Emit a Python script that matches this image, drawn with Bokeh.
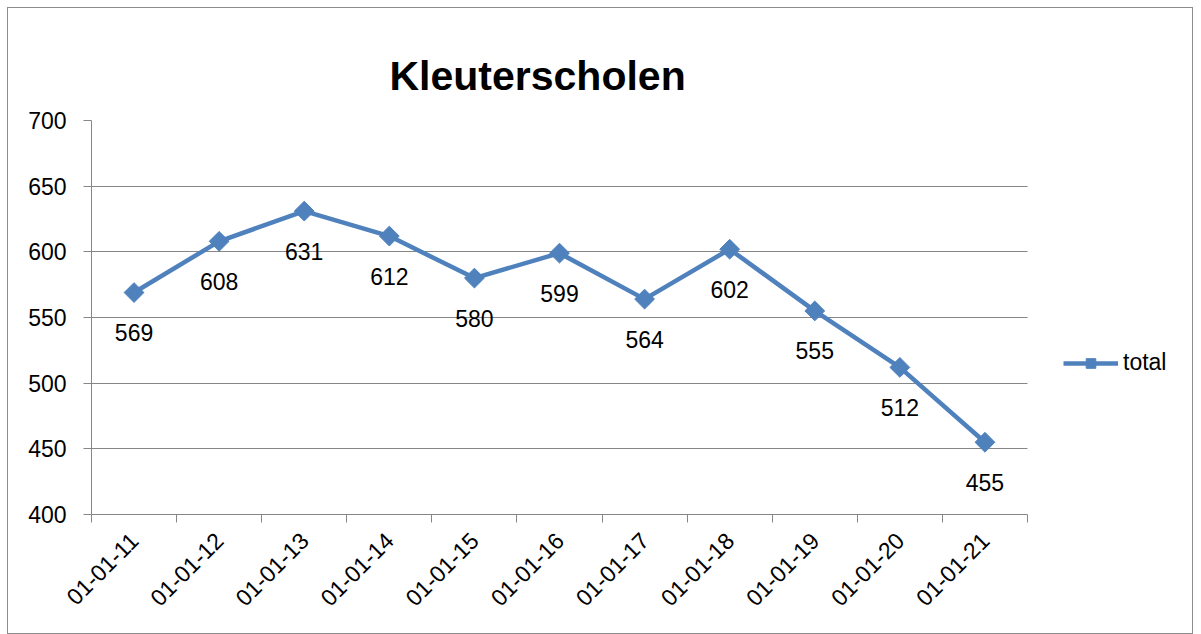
import math
from bokeh.plotting import figure
from bokeh.models import (FixedTicker, LabelSet, ColumnDataSource, Legend,
                          LegendItem, Range1d)
from bokeh.core.properties import value
from bokeh.embed import file_html
from bokeh.resources import INLINE

dates = ["01-01-11", "01-01-12", "01-01-13", "01-01-14", "01-01-15", "01-01-16",
         "01-01-17", "01-01-18", "01-01-19", "01-01-20", "01-01-21"]
totals = [569, 608, 631, 612, 580, 599, 564, 602, 555, 512, 455]
y_ticks = [400, 450, 500, 550, 600, 650, 700]
series_name = "total"
title_text = "Kleuterscholen"

FONT = "Liberation Sans"
BLUE = "#4F81BD"
GRAY = "#868686"

W, H = 1186, 627
LEFT, RIGHT_PAD, TOP, BOTTOM = 83, 10, 112, 121
PLOT_AREA_W = 936  # pixel width of the category area

n = len(dates)
xs = [i + 0.5 for i in range(n)]
src = ColumnDataSource(dict(x=xs, y=totals, lab=[str(v) for v in totals]))

frame_w = W - LEFT - RIGHT_PAD
x_end = n * frame_w / PLOT_AREA_W  # extra room on the right for the legend

p = figure(width=W, height=H, output_backend="svg", toolbar_location=None,
           x_range=Range1d(0, x_end), y_range=Range1d(400, 700),
           min_border_left=LEFT, min_border_right=RIGHT_PAD, min_border_top=TOP,
           min_border_bottom=BOTTOM)
p.styles = {"border": "1px solid #8c8c8c", "box-sizing": "border-box",
            "margin-left": "7px", "margin-top": "7px"}
p.outline_line_color = None
p.background_fill_color = "white"
p.border_fill_color = "white"

p.title.text = title_text
p.title.text_font = FONT
p.title.text_font_style = "bold"
p.title.text_font_size = "41px"
p.title.text_color = "black"
p.title.align = "left"
p.title.offset = 298
p.title.standoff = 43

# y axis
p.yaxis.ticker = FixedTicker(ticks=y_ticks)
p.yaxis.axis_line_color = GRAY
p.yaxis.major_tick_line_color = GRAY
p.yaxis.major_tick_out = 8
p.yaxis.major_tick_in = 0
p.yaxis.minor_tick_line_color = None
p.yaxis.major_label_text_font = FONT
p.yaxis.major_label_text_font_size = "23px"
p.yaxis.major_label_text_color = "black"
p.yaxis.major_label_standoff = 17

# x axis
p.xaxis.ticker = FixedTicker(ticks=xs, minor_ticks=list(range(n + 1)))
p.xaxis.bounds = (0, n)
p.xaxis.major_label_overrides = {x: d for x, d in zip(xs, dates)}
p.xaxis.major_tick_line_color = None
p.xaxis.major_tick_out = 0
p.xaxis.major_tick_in = 0
p.xaxis.minor_tick_line_color = GRAY
p.xaxis.minor_tick_out = 8
p.xaxis.minor_tick_in = 0
p.xaxis.axis_line_color = GRAY
p.xaxis.major_label_orientation = math.pi / 4
p.xaxis.major_label_text_font = FONT
p.xaxis.major_label_text_font_size = "23px"
p.xaxis.major_label_text_color = "black"
p.xaxis.major_label_standoff = 14

p.xgrid.grid_line_color = None
grid = p.ygrid[0]
try:
    grid.cross_bounds = (0, n)
    grid.ticker = FixedTicker(ticks=y_ticks)
    grid.grid_line_color = GRAY
    grid.grid_line_width = 1
except AttributeError:
    grid.grid_line_color = None
    gsrc = ColumnDataSource(dict(x0=[0] * len(y_ticks), x1=[n] * len(y_ticks),
                                 y=y_ticks))
    p.segment(x0="x0", y0="y", x1="x1", y1="y", source=gsrc,
              line_color=GRAY, line_width=1, level="underlay")

ln = p.line("x", "y", source=src, line_color=BLUE, line_width=4.5)
sc = p.scatter("x", "y", source=src, marker="square", size=14, angle=math.pi / 4,
               fill_color=BLUE, line_color=BLUE)

labels = LabelSet(x="x", y="y", text="lab", source=src, y_offset=-40,
                  text_align="center", text_baseline="middle",
                  text_font=value(FONT), text_font_size=value("23px"),
                  text_color="black")
p.add_layout(labels)

legend = Legend(items=[LegendItem(label=series_name, renderers=[ln, sc])],
                location=(972, 138), glyph_width=55, glyph_height=24,
                label_standoff=5, padding=0, margin=0, spacing=0,
                border_line_color=None, background_fill_alpha=0,
                label_text_font=FONT, label_text_font_size="23px",
                label_text_color="black")
p.add_layout(legend)

open("out.html", "w").write(file_html(p, INLINE))
